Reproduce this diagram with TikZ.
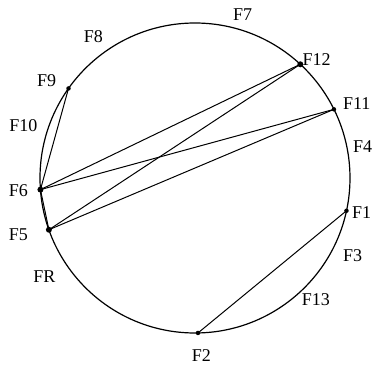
\documentclass[tikz,border=0pt]{standalone}
\usepackage{fontspec}
\setmainfont{Liberation Serif}
\usepackage{tikz}
\usetikzlibrary{positioning, calc}

\begin{document}
\begin{tikzpicture}[x=1pt, y=1pt, line width=1pt]
    \tikzstyle{dot} = [circle, fill=black, inner sep=0pt, minimum size=4.5pt]
    \tikzstyle{bigdot} = [dot, minimum size=6pt]
    \tikzstyle{lbl} = [inner sep=0pt, font=\fontsize{18}{21}\selectfont]
    \tikzstyle{chord} = [line width=1pt]

    \useasboundingbox (-195,-187) rectangle (181,178);

    \node (O) at (0,0) {};
    \draw [line width=1.2pt] (O.center) circle (155);

    % points on the circle
    \node (F9)  [dot]    at (144.7:155) {};
    \node (F12) [bigdot] at (47.2:155)  {};
    \node (F11) [dot]    at (26.3:155)  {};
    \node (F1)  [dot]    at (-12.2:155) {};
    \node (F2)  [dot]    at (-88.9:155) {};
    \node (F6)  [bigdot] at (184.3:155) {};
    \node (F5)  [bigdot] at (199.5:155) {};

    % labels
    \node (lF7)  [lbl] at (47.7,163)     {F7};
    \node (lF8)  [lbl] at (-101.7,141.3) {F8};
    \node (lF9)  [lbl] at (-148.3,97)    {F9};
    \node (lF12) [lbl] at (121.7,118)    {F12};
    \node (lF11) [lbl] at (161.7,74)     {F11};
    \node (lF10) [lbl] at (-171.7,52)    {F10};
    \node (lF4)  [lbl] at (167.7,31.3)   {F4};
    \node (lF6)  [lbl] at (-176.7,-13)   {F6};
    \node (lF1)  [lbl] at (166.7,-34.7)  {F1};
    \node (lF5)  [lbl] at (-176.7,-56.3) {F5};
    \node (lF3)  [lbl] at (157.7,-78)    {F3};
    \node (lFR)  [lbl] at (-150.7,-98.7) {FR};
    \node (lF13) [lbl] at (121,-122)     {F13};
    \node (lF2)  [lbl] at (6.3,-178)     {F2};

    % chords
    \draw [chord] (F9.center) -- (F6.center);
    \draw [chord] (F6.center) -- (F5.center);
    \draw [chord] (F6.center) -- (F12.center);
    \draw [chord] (F6.center) -- (F11.center);
    \draw [chord] (F5.center) -- (F12.center);
    \draw [chord] (F5.center) -- (F11.center);
    \draw [chord] (F1.center) -- (F2.center);
\end{tikzpicture}
\end{document}
